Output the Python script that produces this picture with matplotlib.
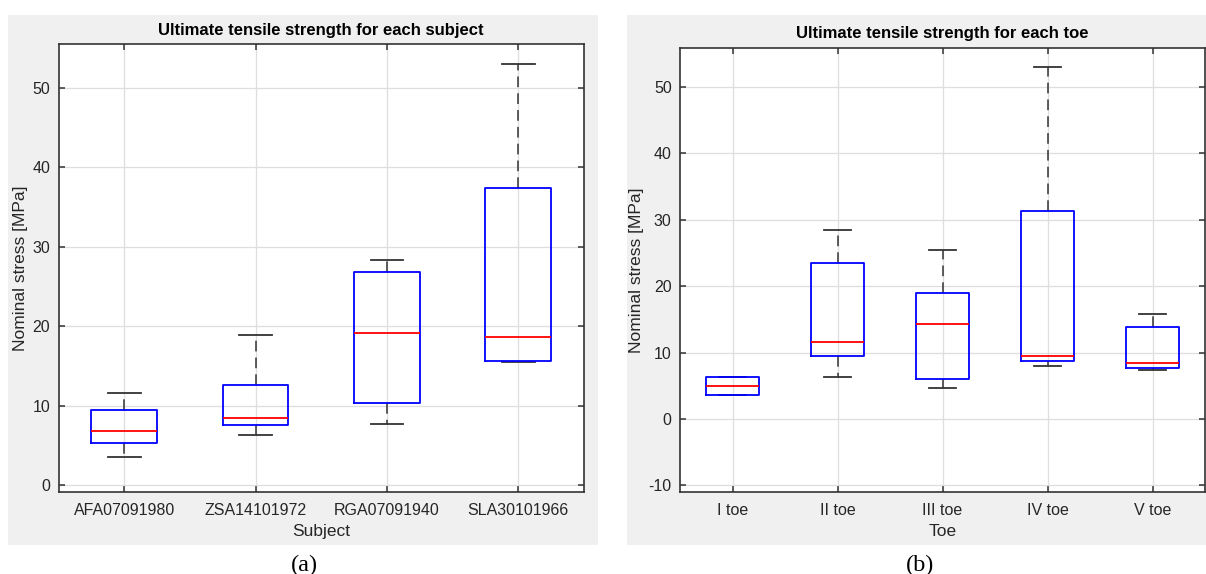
import matplotlib
matplotlib.use("Agg")
import matplotlib.pyplot as plt
from matplotlib.patches import Rectangle

plt.rcParams["font.family"] = ["Liberation Sans", "DejaVu Sans"]
plt.rcParams["axes.unicode_minus"] = False

# Ultimate tensile strength per subject (box statistics, MPa)
subjects = ["AFA07091980", "ZSA14101972", "RGA07091940", "SLA30101966"]
subj_whislo = [3.5, 6.3, 7.7, 15.5]
subj_q1 = [5.3, 7.6, 10.35, 15.6]
subj_med = [6.75, 8.4, 19.2, 18.7]
subj_q3 = [9.5, 12.6, 26.8, 37.4]
subj_whishi = [11.6, 18.9, 28.3, 53.0]

# Ultimate tensile strength per toe (box statistics, MPa)
toes = ["I toe", "II toe", "III toe", "IV toe", "V toe"]
toe_whislo = [3.57, 6.3, 4.7, 8.05, 7.4]
toe_q1 = [3.57, 9.55, 6.03, 8.8, 7.65]
toe_med = [4.93, 11.66, 14.33, 9.55, 8.4]
toe_q3 = [6.33, 23.5, 18.96, 31.37, 13.88]
toe_whishi = [6.33, 28.4, 25.5, 53.05, 15.73]

W, H = 1206, 574
fig = plt.figure(figsize=(W / 100, H / 100), dpi=100)
fig.patch.set_facecolor("white")

PANEL = "#f0f0f0"
INK = "#262626"


def px_rect(x0, y0, x1, y1):
    return [x0 / W, 1 - y1 / H, (x1 - x0) / W, (y1 - y0) / H]


# grey figure panels behind each plot
for x0, x1 in [(8, 598), (627, 1206)]:
    fig.patches.append(Rectangle((x0 / W, 1 - 545 / H), (x1 - x0) / W, (545 - 15) / H,
                                 transform=fig.transFigure, facecolor=PANEL,
                                 edgecolor="none", zorder=-5))


def make_stats(labels, lo, q1, med, q3, hi):
    return [dict(label=l, whislo=a, q1=b, med=c, q3=d, whishi=e, fliers=[])
            for l, a, b, c, d, e in zip(labels, lo, q1, med, q3, hi)]


def draw_panel(rect, stats, title, xlabel, ylim, yticks, ylabel_x):
    ax = fig.add_axes(rect)
    ax.set_facecolor("white")
    ax.set_axisbelow(True)
    n = len(stats)
    ax.bxp(stats, positions=range(1, n + 1), widths=0.5, capwidths=0.25,
           showfliers=False, patch_artist=False,
           boxprops=dict(color="#0000ff", linewidth=1.3, zorder=3),
           medianprops=dict(color="#ff0000", linewidth=1.3, zorder=4),
           whiskerprops=dict(color="#333333", linewidth=1.1, linestyle=(0, (7, 4)), zorder=2),
           capprops=dict(color="#333333", linewidth=1.3, zorder=2))
    ax.set_xlim(0.5, n + 0.5)
    ax.set_ylim(*ylim)
    ax.set_yticks(yticks)
    ax.set_xticks(range(1, n + 1))
    ax.set_xticklabels([s["label"] for s in stats])
    ax.grid(True, color="#dedede", linewidth=0.9)
    for sp in ax.spines.values():
        sp.set_color("#333333")
        sp.set_linewidth(1.2)
    ax.tick_params(direction="in", length=4, width=1.1, color="#333333",
                   top=True, right=True, labelsize=11.5, labelcolor=INK)
    ax.tick_params(axis="x", pad=8)
    ax.tick_params(axis="y", pad=6)
    ax.set_title(title, fontsize=12, fontweight="bold", color="black", pad=7)
    ax.set_xlabel(xlabel, fontsize=12.5, color=INK)
    ax.set_ylabel("Nominal stress [MPa]", fontsize=12.5, color=INK)
    ax.xaxis.set_label_coords(0.5, -0.089)
    ax.xaxis.label.set_verticalalignment("center")
    ax.yaxis.set_label_coords(ylabel_x, 0.5)
    ax.yaxis.label.set_verticalalignment("center")
    return ax


draw_panel(px_rect(58.6, 44.3, 584, 492),
           make_stats(subjects, subj_whislo, subj_q1, subj_med, subj_q3, subj_whishi),
           "Ultimate tensile strength for each subject", "Subject",
           (-0.88, 55.5), [0, 10, 20, 30, 40, 50], -0.0716)

draw_panel(px_rect(680, 47.7, 1205, 492.3),
           make_stats(toes, toe_whislo, toe_q1, toe_med, toe_q3, toe_whishi),
           "Ultimate tensile strength for each toe", "Toe",
           (-11.04, 55.9), [-10, 0, 10, 20, 30, 40, 50], -0.0825)

# sub-figure captions
fig.text(304 / W, 1 - 565 / H, "(a)", ha="center", va="center",
         fontsize=17.5, family=["Liberation Serif", "DejaVu Serif"], color="black")
fig.text(920 / W, 1 - 565 / H, "(b)", ha="center", va="center",
         fontsize=17.5, family=["Liberation Serif", "DejaVu Serif"], color="black")

fig.savefig("out.png", dpi=100, facecolor="white")
